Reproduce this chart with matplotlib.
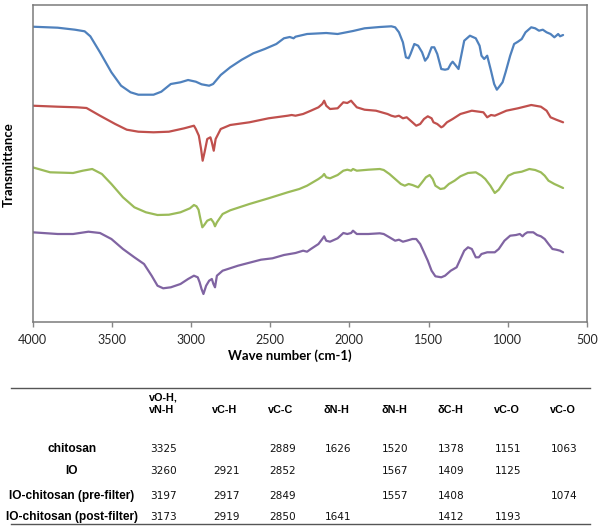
import matplotlib
matplotlib.use("Agg")
import matplotlib.pyplot as plt
from matplotlib.lines import Line2D

# ---------------- data ----------------
chitosan_wn = [4000, 3841, 3732, 3671, 3635, 3574, 3502, 3441, 3381, 3332, 3236, 3187, 3127, 3066, 3018,
               2969, 2933, 2885, 2860, 2812, 2752, 2679, 2606, 2534, 2461, 2413, 2376, 2352, 2340, 2267,
               2146, 2074, 1977, 1904, 1808, 1735, 1711, 1687, 1662, 1643, 1626, 1614, 1590, 1566, 1541,
               1522, 1505, 1481, 1464, 1445, 1420, 1396, 1377, 1360, 1348, 1331, 1311, 1294, 1275, 1239,
               1202, 1178, 1166, 1149, 1130, 1106, 1086, 1069, 1052, 1033, 1014, 985, 960, 936, 912,
               888, 852, 827, 803, 779, 755, 730, 706, 694, 682, 670, 651]
chitosan_t = [295.3, 294.3, 292.3, 290.7, 285.7, 269.7, 249.7, 236.3, 229.7, 227.3, 227.3, 230.3, 238, 239.7, 242,
              240.3, 237.7, 236.3, 238, 247, 254.7, 262.3, 268.7, 273, 278, 283.7, 285, 283.7, 285.3, 288,
              289, 288, 291, 293.7, 295, 295.7, 294.7, 289.7, 279.7, 264.7, 263.7, 268, 278, 276.3, 269.7,
              261.3, 264.7, 274.7, 274.7, 268, 253, 252.3, 253, 258, 260.3, 257, 253, 266.3, 281.3, 286.3,
              283.7, 276.3, 266.3, 263, 266.3, 251.3, 238, 232.3, 235.7, 239.7, 249.7, 266.3, 278, 280.3, 283,
              289.7, 294.7, 293.7, 291.3, 292.3, 289.7, 288, 284.7, 286.3, 288, 285.7, 287]

io_wn = [4000, 3841, 3720, 3659, 3574, 3478, 3405, 3332, 3236, 3139, 3042, 2981, 2969, 2950, 2936,
         2926, 2914, 2897, 2877, 2868, 2856, 2844, 2812, 2752, 2631, 2510, 2389, 2364, 2340, 2292,
         2243, 2195, 2171, 2159, 2146, 2122, 2074, 2038, 2013, 1989, 1977, 1953, 1904, 1832, 1759,
         1735, 1711, 1687, 1662, 1638, 1602, 1578, 1553, 1529, 1505, 1481, 1469, 1445, 1420, 1408,
         1384, 1348, 1299, 1227, 1154, 1130, 1106, 1082, 1057, 1009, 936, 852, 791, 755, 730,
         694, 651]
io_t = [216.3, 215.3, 214.7, 214, 206.3, 198, 192.3, 190.3, 189.7, 190.3, 193.7, 196.3, 193, 186.3, 173,
        161.3, 169.7, 183, 184.7, 179.7, 171.3, 183, 193, 197, 199.7, 203.7, 206.3, 207, 206.3, 208,
        211.3, 214.7, 218, 221.3, 216.3, 213, 213.7, 219.7, 219, 221.3, 219, 214.7, 212.3, 211.3, 208,
        206.3, 205.3, 206.3, 203.7, 204.7, 199.7, 196.3, 198, 203, 205.7, 203.7, 199.7, 198, 194.7, 195.7,
        199.7, 203, 208, 211.3, 209.7, 204.7, 207, 206.3, 208, 211.3, 213.7, 217, 215.3, 211.3, 204.7,
        202.3, 199.7]

pre_wn = [4000, 3889, 3744, 3683, 3623, 3562, 3502, 3429, 3357, 3284, 3211, 3139, 3066, 3006, 2981,
          2965, 2952, 2940, 2928, 2916, 2897, 2873, 2858, 2848, 2836, 2800, 2752, 2631, 2510, 2389,
          2316, 2267, 2195, 2171, 2159, 2146, 2122, 2074, 2038, 2013, 1989, 1977, 1953, 1880, 1808,
          1783, 1747, 1711, 1675, 1650, 1626, 1602, 1566, 1541, 1517, 1493, 1474, 1457, 1425, 1401,
          1372, 1336, 1299, 1251, 1202, 1166, 1142, 1110, 1082, 1057, 1033, 997, 960, 912, 864,
          827, 791, 767, 743, 706, 682, 651]
pre_t = [154.7, 149.7, 149, 151.3, 153, 148, 138, 124.7, 114.7, 109.7, 107, 107.3, 109.7, 113.7, 117,
         115.7, 112.3, 103, 94.7, 97, 101.3, 103, 99.7, 95.7, 99.7, 108, 111.7, 118, 123.7, 129.7,
         133, 136.3, 143, 145.7, 148, 144.7, 143.7, 147, 151.3, 152.3, 151.3, 153, 151.3, 152.3, 153,
         152, 148, 143, 138, 136.3, 138, 137, 134.7, 139.7, 144.7, 147, 143, 136.3, 133, 133.7,
         138, 141.3, 145.7, 149, 149.7, 146.3, 143, 136.3, 129, 132.3, 138, 146.3, 149, 150.3, 153,
         152, 149.7, 146.3, 141.3, 138, 136.3, 134]

post_wn = [4000, 3841, 3744, 3647, 3574, 3502, 3429, 3357, 3296, 3248, 3211, 3175, 3127, 3066, 3018,
           2981, 2957, 2945, 2933, 2921, 2904, 2885, 2868, 2858, 2848, 2836, 2800, 2703, 2558, 2485,
           2413, 2340, 2292, 2267, 2243, 2195, 2171, 2159, 2146, 2122, 2074, 2038, 2013, 1989, 1977,
           1953, 1880, 1808, 1783, 1747, 1711, 1687, 1662, 1638, 1602, 1578, 1553, 1529, 1505, 1481,
           1457, 1420, 1396, 1360, 1323, 1299, 1275, 1251, 1227, 1202, 1183, 1166, 1130, 1082, 1057,
           1021, 985, 948, 924, 907, 893, 876, 839, 815, 791, 767, 743, 718, 694, 670, 651]
post_t = [89.7, 88, 88, 90.3, 89, 83, 73, 64.7, 58, 46.3, 36.3, 33.7, 34.7, 38, 43,
          46.3, 44.7, 39.7, 33, 28, 36.3, 41.3, 43, 38, 34.7, 46.3, 51.3, 56.3, 62.3, 63.7,
          67, 69, 71.3, 70.3, 73, 78, 83, 85.7, 81.3, 80.3, 83.7, 89, 88, 89, 91.3,
          88, 88, 88.7, 88, 84.7, 81.3, 82.3, 80.3, 81.3, 83, 83, 78, 69.7, 61.3, 51.3,
          45.7, 44.7, 46.3, 51.3, 54.7, 63, 71.3, 74.7, 73, 64.7, 64.7, 68, 69.7, 69.7, 73,
          81.3, 86.3, 87, 88, 85.7, 88, 89.7, 89.7, 87, 85.7, 83, 78, 73, 72.3, 71.3, 69.7]

x_ticks = [4000, 3500, 3000, 2500, 2000, 1500, 1000, 500]

# table
table_headers = [["vO-H,", "vN-H"], ["vC-H"], ["vC-C"], ["\u03b4N-H"], ["\u03b4N-H"],
                 ["\u03b4C-H"], ["vC-O"], ["vC-O"]]
table_rows = ["chitosan", "IO", "IO-chitosan (pre-filter)", "IO-chitosan (post-filter)"]
table_values = [
    ["3325", "", "2889", "1626", "1520", "1378", "1151", "1063"],
    ["3260", "2921", "2852", "", "1567", "1409", "1125", ""],
    ["3197", "2917", "2849", "", "1557", "1408", "", "1074"],
    ["3173", "2919", "2850", "1641", "", "1412", "1193", ""],
]

colors = ["#4F81BD", "#C0504D", "#9BBB59", "#8064A2"]

# ---------------- figure ----------------
W, H = 602, 527
fig = plt.figure(figsize=(W / 100, H / 100), dpi=100)

def fx(x):
    return x / W

def fy(y):
    return 1 - y / H

ax_l, ax_r, ax_t, ax_b = 32.5, 587, 5, 322
ax = fig.add_axes([fx(ax_l), fy(ax_b), fx(ax_r - ax_l), (ax_b - ax_t) / H])

for wn, t, c in zip([chitosan_wn, io_wn, pre_wn, post_wn],
                    [chitosan_t, io_t, pre_t, post_t], colors):
    ax.plot(wn, t, color=c, lw=1.6, solid_joinstyle="round", solid_capstyle="round")

ax.set_xlim(4000, 500)
ax.set_ylim(0, 317)
ax.set_xticks(x_ticks)
ax.set_xticklabels([str(v) for v in x_ticks], fontsize=9, family="Lato", color="#262626")
ax.set_yticks([])
ax.tick_params(axis="x", direction="out", length=3.5, width=1, color="#868686", pad=5)
for s in ax.spines.values():
    s.set_color("#7a7a7a")
    s.set_linewidth(1.1)

fig.text(fx(290), fy(356), "Wave number (cm-1)", ha="center", va="center",
         fontsize=9.5, family="Lato", fontweight="bold", color="#000000")
fig.text(fx(9), fy(165), "Transmittance", ha="center", va="center",
         rotation=90, fontsize=9.5, family="Lato", fontweight="bold", color="#000000")

# ---------------- table ----------------
line_x0, line_x1 = 11, 590
top_line_y, bottom_line_y = 388, 524
for yy in (top_line_y, bottom_line_y):
    fig.add_artist(Line2D([fx(line_x0), fx(line_x1)], [fy(yy), fy(yy)],
                          color="#555555", lw=1.0))

col_x = [149, 212, 268, 324, 381, 437, 494, 550]
row_y = [449, 471, 496, 517]
label_cx = 72

for cx, hdr in zip(col_x, table_headers):
    if len(hdr) == 2:
        fig.text(fx(cx), fy(397.5), hdr[0], ha="left", va="center", fontsize=7.8,
                 family="Liberation Sans", fontweight="bold")
        fig.text(fx(cx), fy(410), hdr[1], ha="left", va="center", fontsize=7.8,
                 family="Liberation Sans", fontweight="bold")
    else:
        fig.text(fx(cx), fy(410), hdr[0], ha="left", va="center", fontsize=7.8,
                 family="Liberation Sans", fontweight="bold")

for ry, name, vals in zip(row_y, table_rows, table_values):
    fig.text(fx(label_cx), fy(ry), name, ha="center", va="center", fontsize=8.6,
             family="Liberation Sans", fontweight="bold")
    for cx, v in zip(col_x, vals):
        if v:
            fig.text(fx(cx + 1), fy(ry), v, ha="left", va="center", fontsize=7.6,
                     family="DejaVu Sans", color="#111111")

fig.savefig("out.png", dpi=100)
